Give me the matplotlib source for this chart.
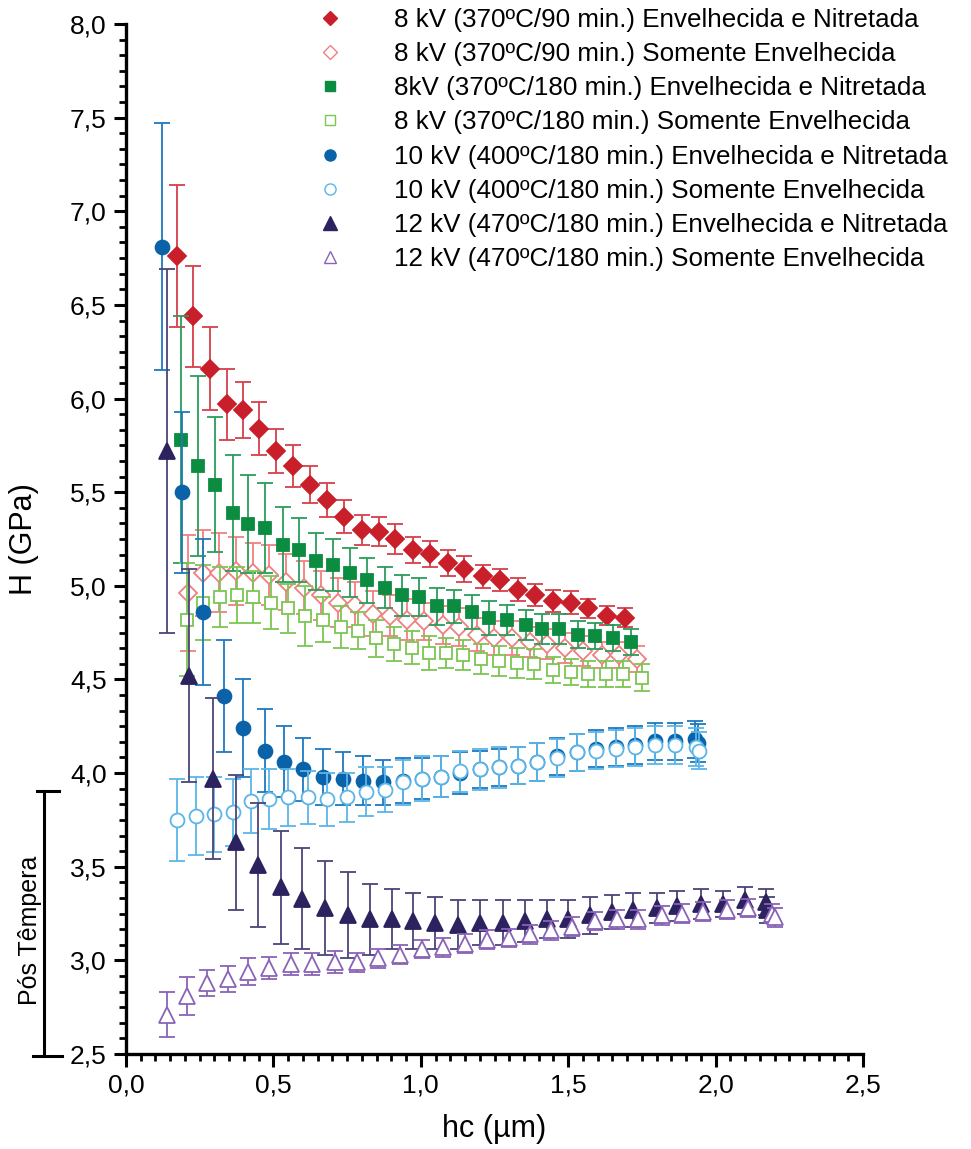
import matplotlib
matplotlib.use("Agg")
import matplotlib.pyplot as plt
from matplotlib.lines import Line2D
from matplotlib.ticker import MultipleLocator, FuncFormatter
import matplotlib.transforms as mtransforms

plt.rcParams['font.family'] = ['Liberation Sans', 'DejaVu Sans']

# 8 kV (370 C / 90 min) aged + nitrided
red_x = [0.172, 0.228, 0.285, 0.342, 0.396, 0.452, 0.509, 0.565, 0.624, 0.682, 0.739, 0.80, 0.858, 0.912,
         0.974, 1.031, 1.092, 1.147, 1.211, 1.269, 1.33, 1.387, 1.448, 1.51, 1.567, 1.632, 1.693]
red_h = [6.76, 6.44, 6.16, 5.97, 5.94, 5.84, 5.72, 5.64, 5.54, 5.46, 5.37, 5.30, 5.29, 5.25,
         5.19, 5.17, 5.12, 5.09, 5.05, 5.03, 4.98, 4.95, 4.92, 4.91, 4.88, 4.84, 4.83]
red_err = [0.38, 0.27, 0.22, 0.19, 0.15, 0.14, 0.12, 0.11, 0.10, 0.09, 0.09, 0.08, 0.08, 0.08,
           0.07, 0.07, 0.07, 0.07, 0.06, 0.06, 0.06, 0.06, 0.06, 0.06, 0.05, 0.05, 0.05]

# 8 kV (370 C / 90 min) aged only
redo_x = [0.209, 0.26, 0.316, 0.373, 0.43, 0.485, 0.543, 0.603, 0.661, 0.72, 0.777, 0.839, 0.896, 0.952,
          1.011, 1.074, 1.131, 1.19, 1.249, 1.308, 1.37, 1.427, 1.489, 1.551, 1.614, 1.673, 1.734]
redo_h = [4.96, 5.07, 5.07, 5.08, 5.07, 5.06, 5.02, 4.99, 4.95, 4.91, 4.90, 4.85, 4.84, 4.82,
          4.81, 4.79, 4.78, 4.74, 4.72, 4.72, 4.70, 4.69, 4.67, 4.65, 4.63, 4.63, 4.61]
redo_err = [0.31, 0.23, 0.21, 0.18, 0.16, 0.16, 0.15, 0.14, 0.13, 0.13, 0.12, 0.12, 0.11, 0.11,
            0.10, 0.10, 0.10, 0.09, 0.09, 0.09, 0.08, 0.08, 0.08, 0.08, 0.07, 0.07, 0.07]

# 8 kV (370 C / 180 min) aged + nitrided
grn_x = [0.186, 0.243, 0.302, 0.362, 0.415, 0.472, 0.534, 0.588, 0.645, 0.701, 0.76, 0.819, 0.879, 0.937,
         0.995, 1.054, 1.113, 1.173, 1.232, 1.294, 1.356, 1.412, 1.47, 1.534, 1.591, 1.651, 1.712]
grn_h = [5.78, 5.64, 5.54, 5.39, 5.33, 5.31, 5.22, 5.19, 5.13, 5.11, 5.07, 5.03, 4.99, 4.95,
         4.94, 4.89, 4.89, 4.86, 4.83, 4.82, 4.79, 4.77, 4.77, 4.74, 4.73, 4.72, 4.70]
grn_err = [0.66, 0.48, 0.36, 0.31, 0.26, 0.24, 0.20, 0.17, 0.15, 0.14, 0.13, 0.12, 0.11, 0.11,
           0.10, 0.10, 0.09, 0.09, 0.09, 0.08, 0.08, 0.08, 0.08, 0.07, 0.07, 0.07, 0.07]

# 8 kV (370 C / 180 min) aged only
grno_x = [0.206, 0.26, 0.319, 0.378, 0.432, 0.491, 0.551, 0.607, 0.667, 0.728, 0.788, 0.848, 0.909, 0.969,
          1.028, 1.085, 1.144, 1.204, 1.265, 1.325, 1.385, 1.449, 1.508, 1.568, 1.628, 1.687, 1.749]
grno_h = [4.82, 4.91, 4.94, 4.95, 4.94, 4.91, 4.88, 4.84, 4.82, 4.78, 4.76, 4.72, 4.69, 4.67,
          4.64, 4.64, 4.63, 4.61, 4.60, 4.59, 4.58, 4.55, 4.54, 4.53, 4.53, 4.53, 4.51]
grno_err = [0.30, 0.20, 0.16, 0.15, 0.14, 0.14, 0.13, 0.16, 0.12, 0.11, 0.10, 0.10, 0.09, 0.09,
            0.09, 0.08, 0.08, 0.08, 0.08, 0.08, 0.08, 0.07, 0.07, 0.07, 0.07, 0.07, 0.07]

# 10 kV (400 C / 180 min) aged + nitrided
blu_x = [0.121, 0.189, 0.26, 0.333, 0.398, 0.471, 0.536, 0.601, 0.669, 0.735, 0.805, 0.871, 0.94, 1.003,
         1.067, 1.133, 1.20, 1.266, 1.331, 1.395, 1.461, 1.529, 1.594, 1.662, 1.727, 1.794, 1.862, 1.93, 1.94]
blu_h = [6.81, 5.50, 4.86, 4.41, 4.24, 4.12, 4.06, 4.02, 3.98, 3.97, 3.96, 3.95, 3.96, 3.97,
         3.98, 4.00, 4.02, 4.03, 4.04, 4.06, 4.09, 4.11, 4.13, 4.14, 4.15, 4.17, 4.17, 4.18, 4.16]
blu_err = [0.66, 0.43, 0.39, 0.30, 0.26, 0.22, 0.19, 0.17, 0.15, 0.14, 0.13, 0.12, 0.12, 0.11,
           0.11, 0.11, 0.10, 0.10, 0.10, 0.10, 0.10, 0.10, 0.10, 0.10, 0.10, 0.10, 0.10, 0.10, 0.10]

# 10 kV (400 C / 180 min) aged only
bluo_x = [0.174, 0.236, 0.30, 0.364, 0.423, 0.486, 0.551, 0.618, 0.683, 0.748, 0.813, 0.879, 0.94, 1.003,
          1.067, 1.133, 1.201, 1.266, 1.331, 1.395, 1.461, 1.529, 1.594, 1.662, 1.727, 1.794, 1.862, 1.935, 1.945]
bluo_h = [3.75, 3.77, 3.78, 3.79, 3.85, 3.86, 3.87, 3.87, 3.86, 3.87, 3.90, 3.91, 3.95, 3.97,
          3.98, 4.01, 4.02, 4.03, 4.04, 4.06, 4.08, 4.11, 4.12, 4.13, 4.14, 4.15, 4.15, 4.14, 4.12]
bluo_err = [0.22, 0.21, 0.20, 0.18, 0.17, 0.16, 0.15, 0.14, 0.14, 0.13, 0.13, 0.12, 0.12, 0.12,
            0.11, 0.11, 0.11, 0.11, 0.10, 0.10, 0.10, 0.10, 0.10, 0.10, 0.10, 0.10, 0.10, 0.10, 0.10]

# 12 kV (470 C / 180 min) aged + nitrided
nav_x = [0.138, 0.214, 0.294, 0.373, 0.447, 0.526, 0.596, 0.675, 0.752, 0.828, 0.901, 0.975, 1.048, 1.127,
         1.201, 1.28, 1.354, 1.427, 1.50, 1.574, 1.647, 1.72, 1.80, 1.87, 1.952, 2.026, 2.10, 2.17, 2.175]
nav_h = [5.72, 4.52, 3.97, 3.63, 3.51, 3.39, 3.33, 3.28, 3.24, 3.22, 3.22, 3.21, 3.20, 3.19,
         3.20, 3.20, 3.21, 3.22, 3.22, 3.24, 3.26, 3.27, 3.28, 3.29, 3.30, 3.30, 3.32, 3.31, 3.27]
nav_err = [0.97, 0.57, 0.43, 0.36, 0.33, 0.30, 0.27, 0.25, 0.23, 0.19, 0.16, 0.15, 0.14, 0.13,
           0.12, 0.12, 0.11, 0.10, 0.10, 0.10, 0.09, 0.09, 0.08, 0.08, 0.08, 0.07, 0.07, 0.07, 0.07]

# 12 kV (470 C / 180 min) aged only
pur_x = [0.138, 0.206, 0.276, 0.347, 0.415, 0.486, 0.56, 0.632, 0.709, 0.783, 0.856, 0.929, 1.003, 1.076,
         1.15, 1.224, 1.30, 1.37, 1.44, 1.512, 1.591, 1.665, 1.738, 1.817, 1.885, 1.958, 2.037, 2.11, 2.19, 2.20]
pur_h = [2.71, 2.81, 2.88, 2.90, 2.94, 2.96, 2.98, 2.98, 2.99, 2.99, 3.01, 3.03, 3.06, 3.07,
         3.09, 3.11, 3.12, 3.14, 3.16, 3.18, 3.21, 3.22, 3.22, 3.24, 3.25, 3.26, 3.27, 3.28, 3.25, 3.23]
pur_err = [0.12, 0.10, 0.07, 0.07, 0.07, 0.06, 0.06, 0.06, 0.06, 0.05, 0.05, 0.05, 0.05, 0.05,
           0.05, 0.05, 0.05, 0.05, 0.05, 0.05, 0.05, 0.05, 0.05, 0.05, 0.05, 0.05, 0.05, 0.05, 0.05, 0.05]

labels = [
    "8 kV (370ºC/90 min.) Envelhecida e Nitretada",
    "8 kV (370ºC/90 min.) Somente Envelhecida",
    "8kV (370ºC/180 min.) Envelhecida e Nitretada",
    "8 kV (370ºC/180 min.) Somente Envelhecida",
    "10 kV (400ºC/180 min.) Envelhecida e Nitretada",
    "10 kV (400ºC/180 min.) Somente Envelhecida",
    "12 kV (470ºC/180 min.) Envelhecida e Nitretada",
    "12 kV (470ºC/180 min.) Somente Envelhecida",
]

# (x, y, err, marker, size, marker colour, bar colour, filled)
series = [
    (red_x, red_h, red_err, "D", 9.5, "#C91F2A", "#D6404A", True),
    (redo_x, redo_h, redo_err, "D", 9.5, "#F07F80", "#F07F80", False),
    (grn_x, grn_h, grn_err, "s", 9, "#0B8C40", "#2A9D5A", True),
    (grno_x, grno_h, grno_err, "s", 9, "#7CC653", "#7CC653", False),
    (blu_x, blu_h, blu_err, "o", 10, "#0A63A8", "#1E78BF", True),
    (bluo_x, bluo_h, bluo_err, "o", 10, "#5BB5E8", "#5BB5E8", False),
    (nav_x, nav_h, nav_err, "^", 12, "#2C2260", "#4A4477", True),
    (pur_x, pur_h, pur_err, "^", 11, "#8A63B8", "#8A63B8", False),
]

fig = plt.figure(figsize=(9.71, 11.49), dpi=100)
ax = fig.add_axes([126 / 971, 1 - 1054 / 1149, 737 / 971, 1030 / 1149])

handles = []
for i, (x, y, e, mk, ms, mc, bc, filled) in enumerate(series):
    face = mc if filled else "white"
    ax.errorbar(x, y, yerr=e, fmt=mk, ms=ms, mfc=face, mec=mc, mew=1.3,
                ecolor=bc, elinewidth=1.3, capsize=5.5, capthick=1.3,
                zorder=3 + i)
    handles.append(Line2D([], [], ls="none", marker=mk, ms=ms * 0.8,
                          mfc=face, mec=mc, mew=1.0))

ax.set_xlim(0, 2.5)
ax.set_ylim(2.5, 8.0)
ax.xaxis.set_major_locator(MultipleLocator(0.5))
ax.xaxis.set_minor_locator(MultipleLocator(0.05))
ax.yaxis.set_major_locator(MultipleLocator(0.5))
ax.yaxis.set_minor_locator(MultipleLocator(0.5 / 6))
comma = FuncFormatter(lambda v, p: f"{v:.1f}".replace(".", ","))
ax.xaxis.set_major_formatter(comma)
ax.yaxis.set_major_formatter(comma)

for s in ["top", "right"]:
    ax.spines[s].set_visible(False)
for s in ["left", "bottom"]:
    ax.spines[s].set_linewidth(2.4)
ax.tick_params(which="major", direction="out", length=9, width=2.2, labelsize=19, pad=5)
ax.tick_params(which="minor", direction="out", length=5, width=2.0)

ax.set_xlabel("hc (µm)", fontsize=22, labelpad=12)
ax.set_ylabel("H (GPa)", fontsize=22, labelpad=22)

ax.legend(handles, labels, loc="upper left", bbox_to_anchor=(306.6 / 971, 1 - 5.5 / 1149),
          bbox_transform=fig.transFigure, frameon=False, fontsize=18.7,
          handlelength=1.6, handletextpad=1.66, labelspacing=0.39,
          borderpad=0.1, borderaxespad=0)

# "Pós Têmpera" bracket to the left of the y axis
tr = mtransforms.blended_transform_factory(fig.transFigure, ax.transData)
bx = 44 / 971
fig.add_artist(Line2D([bx, bx], [3.905, 2.49], color="black", lw=2.2, transform=tr))
fig.add_artist(Line2D([37 / 971, 59 / 971], [3.905, 3.905], color="black", lw=2.2, transform=tr))
fig.add_artist(Line2D([33 / 971, 62 / 971], [2.49, 2.49], color="black", lw=2.2, transform=tr))
fig.text(30 / 971, 1 - 930 / 1149, "Pós Têmpera", rotation=90, fontsize=18,
         ha="center", va="center")

fig.savefig("out.png", dpi=100)
